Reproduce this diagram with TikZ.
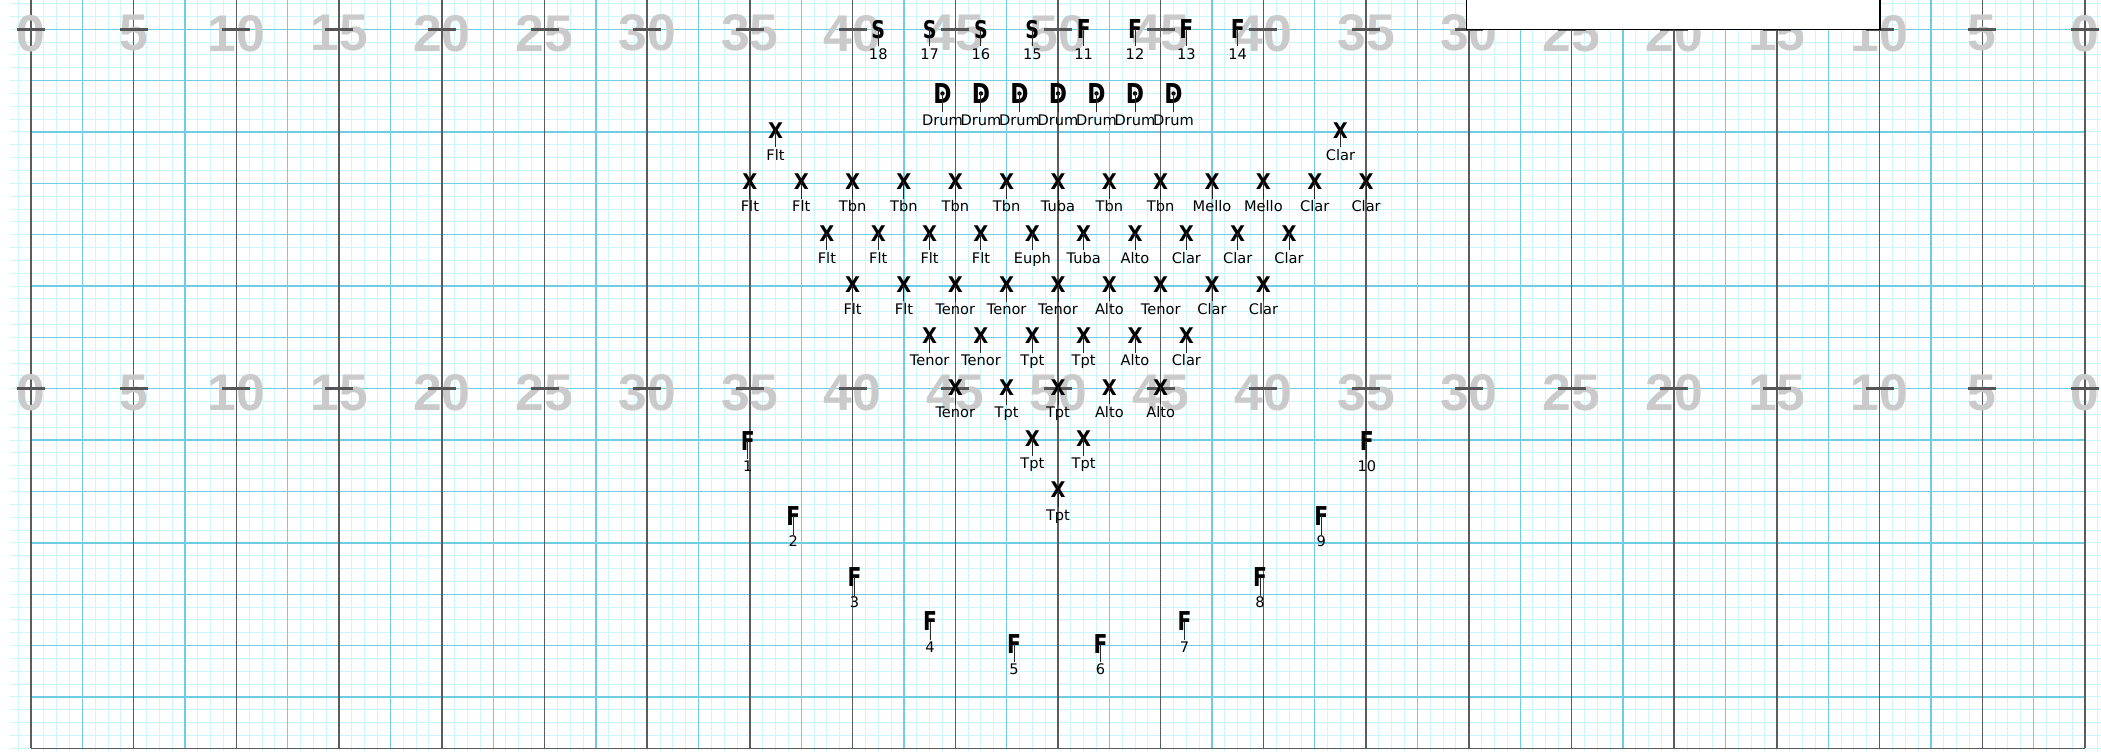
\documentclass[tikz,border=0pt]{standalone}
\usepackage{fontspec}
\setmainfont{DejaVu Sans}
\newfontfamily\yardfont{Liberation Sans}
\newfontfamily\symfont{DejaVu Sans}
\definecolor{minorc}{RGB}{204,246,251}
\definecolor{medc}{RGB}{112,204,226}
\definecolor{darkc}{RGB}{92,92,92}
\definecolor{numc}{RGB}{202,202,202}
\definecolor{tickc}{RGB}{85,85,85}
\definecolor{stemc}{RGB}{40,40,40}
\newcommand\glyphX{\scalebox{0.9}[1]{\symfont\bfseries\fontsize{10.8pt}{11pt}\selectfont X}}
\newcommand\glyphF{\scalebox{0.78}[1]{\symfont\bfseries\fontsize{13pt}{13pt}\selectfont F}}
\newcommand\glyphS{\scalebox{0.78}[1]{\symfont\bfseries\fontsize{12.2pt}{12pt}\selectfont S}}
\newcommand\glyphD{\scalebox{0.8}[1]{\symfont\bfseries\fontsize{13.7pt}{14pt}\selectfont D}}
\tikzset{
  minorline/.style={draw=minorc,line width=0.5pt},
  medline/.style={draw=medc,line width=0.65pt},
  darkline/.style={draw=darkc,line width=0.75pt},
  yardnum/.style={inner sep=0pt,text=numc,font=\yardfont\bfseries\fontsize{25.8pt}{26pt}\selectfont},
  hashtick/.style={draw=tickc,line width=1.35pt},
  lab/.style={inner sep=0pt,anchor=base,font=\fontsize{7.3pt}{8pt}\selectfont},
  sym/.style={inner sep=0pt},
  stem/.style={draw=stemc,line width=0.5pt},
}
\begin{document}
\begin{tikzpicture}[x=0.5pt,y=-0.5pt,declare function={sx(\a)=31+12.8375*\a; ty(\b)=748.3-12.84*\b;}]
\useasboundingbox (0,0) rectangle (2101,751);
\clip (0,0) rectangle (2101,751);
\fill[white] (0,0) rectangle (2101,751);
% grid
\foreach \k in {-1,...,161} \draw[minorline] ({sx(\k)},0) -- ({sx(\k)},751);
\foreach \j in {0,...,58} \draw[minorline] (10,{ty(\j)}) -- (2101,{ty(\j)});
\foreach \k in {4,12,...,156} \draw[medline] ({sx(\k)},0) -- ({sx(\k)},{ty(0)});
\foreach \j in {4,8,...,56} \draw[medline] ({sx(0)},{ty(\j)}) -- ({sx(160)},{ty(\j)});
\foreach \k in {0,8,...,160} \draw[darkline] ({sx(\k)},0) -- ({sx(\k)},{ty(0)});
\draw[darkline] ({sx(0)},{ty(0)}) -- ({sx(160)},{ty(0)});
% yard numbers
\foreach \k in {0,...,20} {
  \pgfmathtruncatemacro\yn{5*min(\k,20-\k)}
  \node[yardnum] (nt\k) at ({sx(8*\k)},{ty(56)+4}) {\yn};
  \node[yardnum] (nm\k) at ({sx(8*\k)},{ty(28)+4}) {\yn};
}
\foreach \k in {0,...,20} {
  \draw[hashtick] ({sx(8*\k)-14},{ty(56)}) -- ({sx(8*\k)+14},{ty(56)});
  \draw[hashtick] ({sx(8*\k)-14},{ty(28)}) -- ({sx(8*\k)+14},{ty(28)});
}
% box top right
\draw[fill=white,draw=black,line width=0.65pt] (1466.5,-5) rectangle (1880,{ty(56)});
% wind performers
\foreach \s/\t/\lab [count=\i] in {
  58/48/Flt,102/48/Clar,
  56/44/Flt,60/44/Flt,64/44/Tbn,68/44/Tbn,72/44/Tbn,76/44/Tbn,80/44/Tuba,84/44/Tbn,88/44/Tbn,92/44/Mello,96/44/Mello,100/44/Clar,104/44/Clar,
  62/40/Flt,66/40/Flt,70/40/Flt,74/40/Flt,78/40/Euph,82/40/Tuba,86/40/Alto,90/40/Clar,94/40/Clar,98/40/Clar,
  64/36/Flt,68/36/Flt,72/36/Tenor,76/36/Tenor,80/36/Tenor,84/36/Alto,88/36/Tenor,92/36/Clar,96/36/Clar,
  70/32/Tenor,74/32/Tenor,78/32/Tpt,82/32/Tpt,86/32/Alto,90/32/Clar,
  72/28/Tenor,76/28/Tpt,80/28/Tpt,84/28/Alto,88/28/Alto,
  78/24/Tpt,82/24/Tpt,
  80/20/Tpt} {
  \node[sym] (x\i) at ({sx(\s)},{ty(\t)-1.5}) {\glyphX};
  \node[lab] (xl\i) at ({sx(\s)},{ty(\t)+28.5}) {\lab};
  \draw[stem,shorten >=0.8pt] (x\i.center) -- (xl\i.north);
}
% top row S / F
\foreach \s/\g/\lab [count=\i] in {66/S/18,70/S/17,74/S/16,78/S/15,82/F/11,86/F/12,90/F/13,94/F/14} {
  \node[sym] (t\i) at ({sx(\s)},{ty(56)}) {\csname glyph\g\endcsname};
  \node[lab] (tl\i) at ({sx(\s)},{ty(56)+30.5}) {\lab};
  \draw[stem,shorten >=1.5pt] (t\i.center) -- (tl\i.north);
}
% drums
\foreach \s [count=\i] in {71,74,...,89} {
  \node[sym] (d\i) at ({sx(\s)},{ty(51)}) {\glyphD};
  \fill (d\i.center) circle (2.2);
  \node[lab] (dl\i) at ({sx(\s)},{ty(51)+32.5}) {Drum};
  \draw[stem,shorten >=1.5pt] (d\i.center) -- (dl\i.north);
}
% flag arc
\foreach \px/\py/\lab [count=\i] in {747.7/441/1,793.3/516.3/2,854.5/577.3/3,930.1/621.5/4,1014.1/643.7/5,1100.5/643.7/6,1184.5/621.5/7,1260.1/577.3/8,1321.3/516.3/9,1366.9/441/10} {
  \node[sym] (f\i) at (\px,\py) {\glyphF};
  \node[lab] (fl\i) at (\px,{\py+30.5}) {\lab};
  \draw[stem,shorten >=0.5pt] (f\i.center) -- (fl\i.north);
}
\end{tikzpicture}
\end{document}
